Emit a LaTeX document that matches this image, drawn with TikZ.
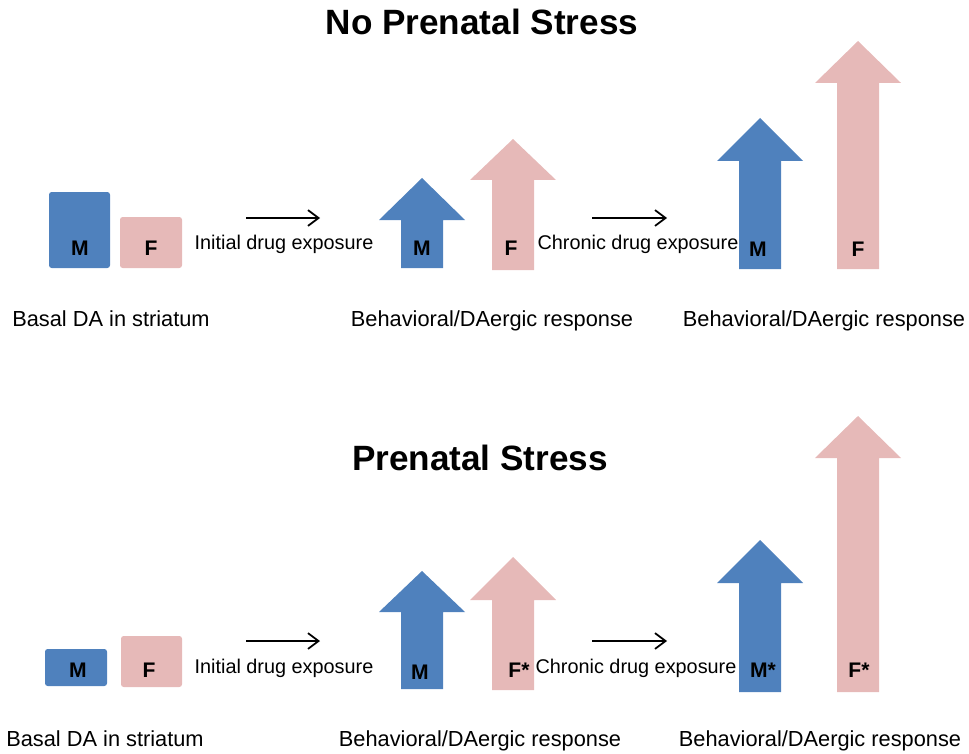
\documentclass[tikz,border=0pt]{standalone}
\usepackage{fontspec}
\setmainfont{Liberation Sans}
\usetikzlibrary{arrows.meta, positioning}

\definecolor{maleblue}{HTML}{4F81BD}
\definecolor{femalepink}{HTML}{E6B9B8}

% block arrow: centre x, bottom, head base, tip, colour
\newcommand{\upblock}[5]{%
	\fill[#5] ({#1-21},#2) -- ({#1-21},#3) -- ({#1-43},#3) -- (#1,#4) -- ({#1+43},#3) -- ({#1+21},#3) -- ({#1+21},#2) -- cycle;}

\begin{document}
\begin{tikzpicture}[
	x = 0.02cm, y = -0.02cm,
	heading/.style = {font=\fontsize{20}{24}\selectfont\bfseries, anchor=base, inner sep=0pt},
	caption/.style = {font=\fontsize{12.4}{15}\selectfont, anchor=base, inner sep=0pt},
	note/.style = {font=\fontsize{11.3}{14}\selectfont, anchor=base, inner sep=0pt},
	tag/.style = {font=\fontsize{12}{14}\selectfont\bfseries, inner sep=0pt},
	box/.style = {rounded corners=1.5pt},
	line/.style = {draw, line width=1pt, -{Straight Barb[length=6pt,width=9pt]}}
	]
	\useasboundingbox (0,0) rectangle (969,753);
	
	% No prenatal stress
	\node [heading] (titleA) at (482,35) {No Prenatal Stress};
	
	\fill [box, maleblue] (49,192) rectangle (110,268);
	\fill [box, femalepink] (120,217) rectangle (182,268);
	\upblock{422}{268}{220}{178}{maleblue}
	\upblock{513}{270}{180}{139}{femalepink}
	\upblock{760}{269}{161}{118}{maleblue}
	\upblock{858}{269}{83}{41}{femalepink}
	
	\node [tag] (basalMA) at (80,248) {M};
	\node [tag] (basalFA) at (151,248) {F};
	\node [tag] (initMA) at (422,248) {M};
	\node [tag] (initFA) at (511,248) {F};
	\node [tag] (chronMA) at (758,249) {M};
	\node [tag] (chronFA) at (858,249) {F};
	
	\node [note] (initA) at (284,249) {Initial drug exposure};
	\node [note] (chronA) at (638,249) {Chronic drug exposure};
	\coordinate (initA-s) at (246,218);
	\coordinate (initA-e) at (320,218);
	\coordinate (chronA-s) at (592,218);
	\coordinate (chronA-e) at (667,218);
	
	\node [caption] (basalA) at (111,326) {Basal DA in striatum};
	\node [caption] (respA) at (492,326) {Behavioral/DAergic response};
	\node [caption] (respB) at (824,326) {Behavioral/DAergic response};
	
	% Prenatal stress
	\node [heading] (titleB) at (480,470) {Prenatal Stress};
	
	\fill [box, maleblue] (45,649) rectangle (107,686);
	\fill [box, femalepink] (121,636) rectangle (182,687);
	\upblock{422}{689}{612}{571}{maleblue}
	\upblock{513}{690}{600}{557}{femalepink}
	\upblock{760}{692}{583}{540}{maleblue}
	\upblock{858}{692}{458}{416}{femalepink}
	
	\node [tag] (basalMB) at (78,670) {M};
	\node [tag] (basalFB) at (149,670) {F};
	\node [tag] (initMB) at (420,672) {M};
	\node [tag] (initFB) at (519,670) {F*};
	\node [tag] (chronMB) at (763,670) {M*};
	\node [tag] (chronFB) at (859,670) {F*};
	
	\node [note] (initB) at (284,673) {Initial drug exposure};
	\node [note] (chronB) at (636,673) {Chronic drug exposure};
	\coordinate (initB-s) at (246,641);
	\coordinate (initB-e) at (320,641);
	\coordinate (chronB-s) at (592,641);
	\coordinate (chronB-e) at (667,641);
	
	\node [caption] (basalB) at (105,746) {Basal DA in striatum};
	\node [caption] (respC) at (480,746) {Behavioral/DAergic response};
	\node [caption] (respD) at (820,746) {Behavioral/DAergic response};
	
	% Lines
	\path [line] (initA-s) -- (initA-e);
	\path [line] (chronA-s) -- (chronA-e);
	\path [line] (initB-s) -- (initB-e);
	\path [line] (chronB-s) -- (chronB-e);
\end{tikzpicture}
\end{document}
